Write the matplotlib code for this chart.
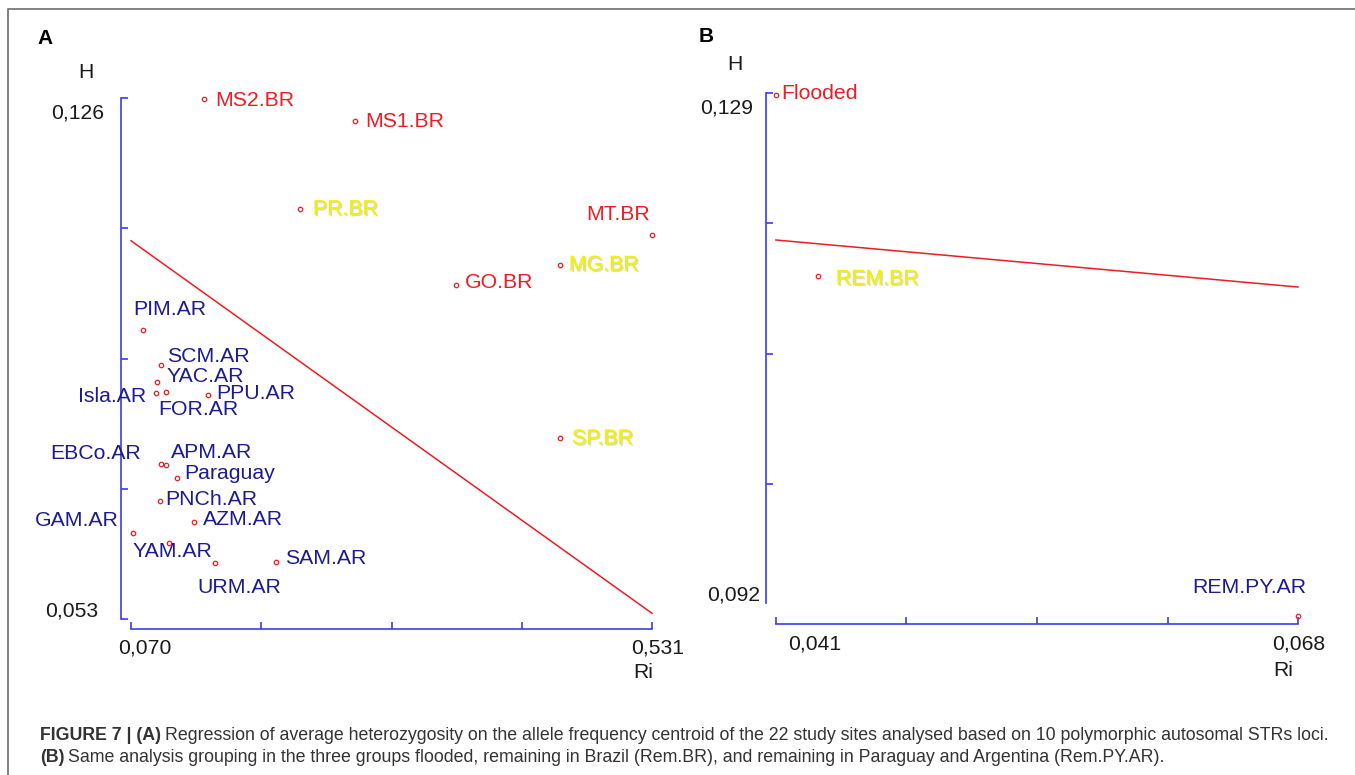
import matplotlib
matplotlib.use("Agg")
import matplotlib.pyplot as plt
import matplotlib.patheffects as pe
import numpy as np

plt.rcParams['font.family'] = ['Liberation Sans', 'DejaVu Sans']

# panel A: 22 study sites
sites_a = ['MS2.BR', 'MS1.BR', 'PR.BR', 'MT.BR', 'MG.BR', 'GO.BR', 'SP.BR',
           'PIM.AR', 'SCM.AR', 'YAC.AR', 'Isla.AR', 'FOR.AR', 'PPU.AR',
           'EBCo.AR', 'APM.AR', 'Paraguay', 'PNCh.AR', 'AZM.AR', 'GAM.AR',
           'YAM.AR', 'URM.AR', 'SAM.AR']
ri_a = [0.1346, 0.2682, 0.2195, 0.531, 0.4496, 0.3576, 0.4496,
        0.0806, 0.0965, 0.0930, 0.0921, 0.1010, 0.1381,
        0.0965, 0.1010, 0.1107, 0.0957, 0.1257, 0.0718,
        0.1036, 0.1443, 0.1983]
h_a = [0.1259, 0.1228, 0.1104, 0.1068, 0.1026, 0.0998, 0.0784,
       0.0935, 0.0886, 0.0862, 0.0847, 0.0848, 0.0844,
       0.0747, 0.0746, 0.0728, 0.0695, 0.0666, 0.0650,
       0.0636, 0.0608, 0.0610]
group_a = ['flooded', 'flooded', 'rem_br', 'flooded', 'rem_br', 'flooded', 'rem_br'] + ['rem_pyar'] * 15
fit_ri_a = [0.070, 0.531]
fit_h_a = [0.1060, 0.0538]

# panel B: three groups
groups_b = ['Flooded', 'REM.BR', 'REM.PY.AR']
ri_b = [0.0410, 0.04317, 0.068]
h_b = [0.12886, 0.1160, 0.09186]
group_b = ['flooded', 'rem_br', 'rem_pyar']
fit_ri_b = [0.041, 0.068]
fit_h_b = [0.11856, 0.11522]

RED = '#ee1c24'
NAVY = '#1c1c8e'
YELLOW = '#f2f200'
BLUE = '#3c3cf0'
colors = {'flooded': RED, 'rem_br': YELLOW, 'rem_pyar': NAVY}

# label placement (offset pixels, alignment)
offs_a = {'MS2.BR': (11, -2, 'left'), 'MS1.BR': (10, -1, 'left'), 'PR.BR': (13, 0, 'left'),
          'MT.BR': (-2, 21, 'right'), 'MG.BR': (9, 0, 'left'), 'GO.BR': (9, 2, 'left'),
          'SP.BR': (12, -1, 'left'), 'PIM.AR': (-10, 20, 'left'), 'SCM.AR': (6, 8, 'left'),
          'YAC.AR': (10, 6, 'left'), 'Isla.AR': (-10, -4, 'right'), 'FOR.AR': (-8, -17, 'left'),
          'PPU.AR': (8, 1, 'left'), 'EBCo.AR': (-20, 11, 'right'), 'APM.AR': (5, 12, 'left'),
          'Paraguay': (7, 4, 'left'), 'PNCh.AR': (5, 2, 'left'), 'AZM.AR': (9, 2, 'left'),
          'GAM.AR': (-14, 13, 'right'), 'YAM.AR': (-36, -8, 'left'), 'URM.AR': (-18, -24, 'left'),
          'SAM.AR': (9, 3, 'left')}
offs_b = {'Flooded': (5, 1, 'left'), 'REM.BR': (18, -3, 'left'), 'REM.PY.AR': (8, 28, 'right')}

W, H = 1355, 775
fig = plt.figure(figsize=(W / 100, H / 100), dpi=100)


def fx(x):
    return x / W


def fy(y):
    return 1 - y / H


def setup_axes(left, top, right, bottom, xlim, ylim, yticks, ybound=None):
    ax = fig.add_axes([fx(left), fy(bottom), (right - left) / W, (bottom - top) / H])
    ax.set_xlim(*xlim)
    ax.set_ylim(*ylim)
    for s in ['top', 'right']:
        ax.spines[s].set_visible(False)
    ax.spines['left'].set_position(('outward', 10 * 0.72))
    ax.spines['bottom'].set_position(('outward', 10 * 0.72))
    for s in ['left', 'bottom']:
        ax.spines[s].set_color(BLUE)
        ax.spines[s].set_linewidth(1.2)
    if ybound is not None:
        ax.spines['left'].set_bounds(*ybound)
    ax.set_xticks(np.linspace(xlim[0], xlim[1], 5))
    ax.set_yticks(yticks)
    ax.set_xticklabels([])
    ax.set_yticklabels([])
    ax.tick_params(direction='in', length=5, width=1.2, color=BLUE)
    ax.patch.set_visible(False)
    return ax


def draw_panel(ax, names, xs, ys, grp, offs, fit_x, fit_y):
    ax.plot(fit_x, fit_y, color=RED, lw=1.1, clip_on=False)
    ax.plot(xs, ys, 'o', mfc='none', mec=RED, ms=3.2, mew=0.9, clip_on=False, zorder=3)
    for n, x, y, g in zip(names, xs, ys, grp):
        dx, dy, ha = offs[n]
        kw = {}
        if g == 'rem_br':
            kw['path_effects'] = [pe.withSimplePatchShadow(offset=(1, -1), shadow_rgbFace='#999999', alpha=0.4),
                                  pe.Normal()]
        ax.annotate(n, (x, y), xytext=(dx, dy), textcoords='offset pixels', ha=ha, va='center',
                    color=colors[g], fontsize=15.3, annotation_clip=False, **kw)


ax_a = setup_axes(131, 98, 652, 619, (0.070, 0.531), (0.053, 0.126), np.linspace(0.126, 0.053, 5))
draw_panel(ax_a, sites_a, ri_a, h_a, group_a, offs_a, fit_ri_a, fit_h_a)

yt_b = np.linspace(0.129, 0.092, 5)[:4]
ax_b = setup_axes(776, 93, 1298, 614, (0.041, 0.068), (0.092, 0.129), yt_b, ybound=(0.0928, 0.129))
draw_panel(ax_b, groups_b, ri_b, h_b, group_b, offs_b, fit_ri_b, fit_h_b)

TXT = '#1a1a1a'
fs = 15.2
# axis end labels
fig.text(fx(104), fy(113), '0,126', ha='right', va='center', fontsize=fs, color=TXT)
fig.text(fx(98), fy(611), '0,053', ha='right', va='center', fontsize=fs, color=TXT)
fig.text(fx(145), fy(648), '0,070', ha='center', va='center', fontsize=fs, color=TXT)
fig.text(fx(658), fy(648), '0,531', ha='center', va='center', fontsize=fs, color=TXT)
fig.text(fx(633), fy(673), 'Ri', ha='left', va='center', fontsize=fs, color=TXT)
fig.text(fx(86), fy(72), 'H', ha='center', va='center', fontsize=fs, color=TXT)

fig.text(fx(753), fy(108), '0,129', ha='right', va='center', fontsize=fs, color=TXT)
fig.text(fx(760), fy(595), '0,092', ha='right', va='center', fontsize=fs, color=TXT)
fig.text(fx(815), fy(644), '0,041', ha='center', va='center', fontsize=fs, color=TXT)
fig.text(fx(1299), fy(644), '0,068', ha='center', va='center', fontsize=fs, color=TXT)
fig.text(fx(1273), fy(670), 'Ri', ha='left', va='center', fontsize=fs, color=TXT)
fig.text(fx(735), fy(65), 'H', ha='center', va='center', fontsize=fs, color=TXT)

fig.text(fx(37), fy(38), 'A', ha='left', va='center', fontsize=15, fontweight='bold', color='black')
fig.text(fx(699), fy(37), 'B', ha='left', va='center', fontsize=15, fontweight='bold', color='black')

# frame lines
fig.add_artist(plt.Line2D([fx(8), fx(8), 1], [0, fy(9), fy(9)], color='#777777', lw=1.3))

# caption
renderer = fig.canvas.get_renderer()
cap_fs = 12.75


def caption_line(y, bold, rest):
    t = fig.text(fx(40), fy(y), bold, ha='left', va='center', fontsize=cap_fs,
                 fontweight='bold', color='#333333')
    bb = t.get_window_extent(renderer=renderer)
    fig.text(bb.x1 / W + fx(4), fy(y), rest, ha='left', va='center', fontsize=cap_fs, color='#333333')


caption_line(735, 'FIGURE 7 | (A)',
             'Regression of average heterozygosity on the allele frequency centroid of the 22 study sites '
             'analysed based on 10 polymorphic autosomal STRs loci.')
caption_line(757, '(B)',
             'Same analysis grouping in the three groups flooded, remaining in Brazil (Rem.BR), and remaining '
             'in Paraguay and Argentina (Rem.PY.AR).')

fig.savefig('out.png', dpi=100)
